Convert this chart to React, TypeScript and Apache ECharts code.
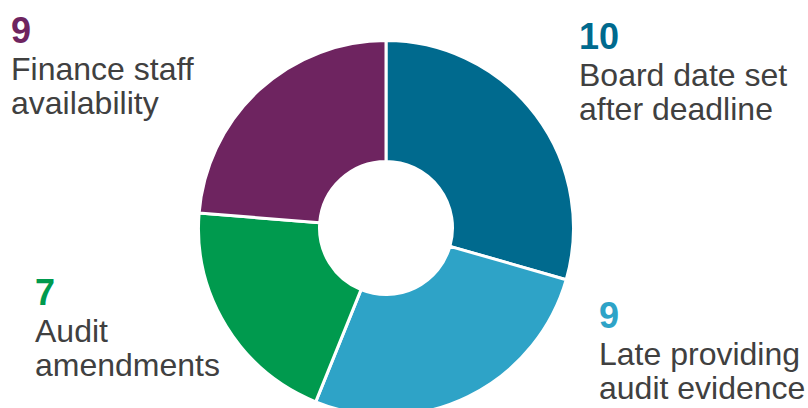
import React, { useEffect, useRef } from "react";
import * as echarts from "echarts";

// Categories in clockwise order starting at 12 o'clock
const categories = [
  "Board date set after deadline",
  "Late providing audit evidence",
  "Audit amendments",
  "Finance staff availability",
];
const labelLines = [
  ["Board date set", "after deadline"],
  ["Late providing", "audit evidence"],
  ["Audit", "amendments"],
  ["Finance staff", "availability"],
];
// Counts shown in the labels
const counts = [10, 9, 7, 9];
// Slice sizes as drawn in the reference (angles)
const sliceShares = [10.3, 9.33, 7.05, 8.3];
const colors = ["#006a8e", "#2ea3c7", "#009a4e", "#6e2460"];

// Label anchors: [left x, baseline of the number]
const labelAnchors: [number, number][] = [
  [579, 49],
  [599, 328],
  [35, 305],
  [11, 43],
];

const NUM_SIZE = 36;
const TXT_SIZE = 32;
const FONT = "'Liberation Sans', Arial, sans-serif";
const TXT_COLOR = "#404040";

export default function App() {
  const ref = useRef<HTMLDivElement>(null);
  useEffect(() => {
    if (!ref.current) return;
    const chart = echarts.init(ref.current, null, { renderer: "svg" });
    const graphics: any[] = [];
    categories.forEach((_, i) => {
      const [x, b] = labelAnchors[i];
      graphics.push({
        type: "text",
        x,
        y: b - 0.3465 * NUM_SIZE,
        silent: true,
        style: {
          text: String(counts[i]),
          fill: colors[i],
          font: `bold ${NUM_SIZE}px ${FONT}`,
          verticalAlign: "middle",
          align: "left",
        },
      });
      labelLines[i].forEach((line, j) => {
        const base = b + 37 + j * 34;
        graphics.push({
          type: "text",
          x,
          y: base - 0.3465 * TXT_SIZE,
          silent: true,
          style: {
            text: line,
            fill: TXT_COLOR,
            font: `${TXT_SIZE}px ${FONT}`,
            verticalAlign: "middle",
            align: "left",
          },
        });
      });
    });
    chart.setOption({
      animation: false,
      backgroundColor: "#ffffff",
      series: [
        {
          type: "pie",
          center: [386, 228],
          radius: [66.5, 187.5],
          startAngle: 90,
          clockwise: true,
          avoidLabelOverlap: false,
          silent: true,
          label: { show: false },
          labelLine: { show: false },
          itemStyle: { borderColor: "#ffffff", borderWidth: 3 },
          data: categories.map((name, i) => ({
            name,
            value: sliceShares[i],
            itemStyle: { color: colors[i] },
          })),
        },
      ],
      graphic: graphics,
    });
    return () => chart.dispose();
  }, []);
  return (
    <div
      ref={ref}
      style={{ position: "fixed", left: 0, top: 0, width: 808, height: 408 }}
    />
  );
}
